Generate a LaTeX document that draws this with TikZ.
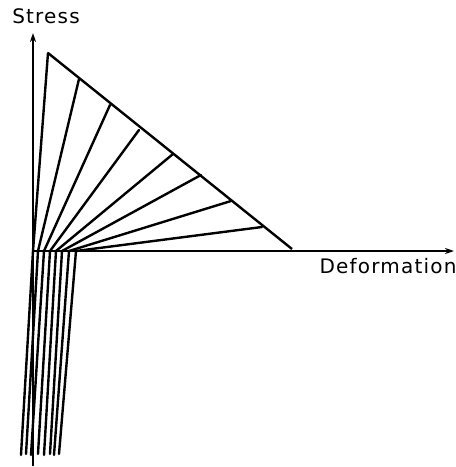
\documentclass[tikz,border=0pt]{standalone}
\usepackage{fontspec}
\setmainfont{DejaVu Sans}[LetterSpace=6]
\usetikzlibrary{arrows.meta}
\begin{document}
\begin{tikzpicture}[x=1pt,y=-1pt,
  axis/.style={line width=1.8pt,-{Stealth[length=9pt,width=6pt]}},
  fan/.style={line width=2.4pt,line cap=round},
  lbl/.style={font=\fontsize{20}{22}\selectfont,inner sep=0pt}]
\useasboundingbox (0,0) rectangle (456,467);
% axes
\coordinate (O) at (33,251);
\coordinate (Ybot) at (33,466);
\coordinate (Ytop) at (33,33);
\coordinate (Xend) at (454,251);
\draw[axis] (Ybot) -- (Ytop);
\draw[axis] (O) -- (Xend);
\node[lbl] (stress) at (46,16) {Stress};
\node[lbl] (deform) at (388,266) {Deformation};
% hypotenuse
\coordinate (A) at (48,53);
\coordinate (B) at (292,249);
\draw[fan,line cap=butt] (A) -- (B);
% fan start points and end points
\foreach \i/\sx/\hx/\hy/\bx/\by in {
  0/33/48/53/21/455,
  1/38/79/79/26/454,
  2/44/110/105/31/455,
  3/50/139/130/38/454,
  4/56/173/154/44/455,
  5/62/201/175/50/454,
  6/69/231/201/54/455,
  7/76/262/227/59/454}{
  \coordinate (s\i) at (\sx,251);
  \coordinate (h\i) at (\hx,\hy);
  \coordinate (b\i) at (\bx,\by);
  \draw[fan] (s\i) -- (h\i);
  \draw[fan] (s\i) -- (b\i);
}
\end{tikzpicture}
\end{document}
